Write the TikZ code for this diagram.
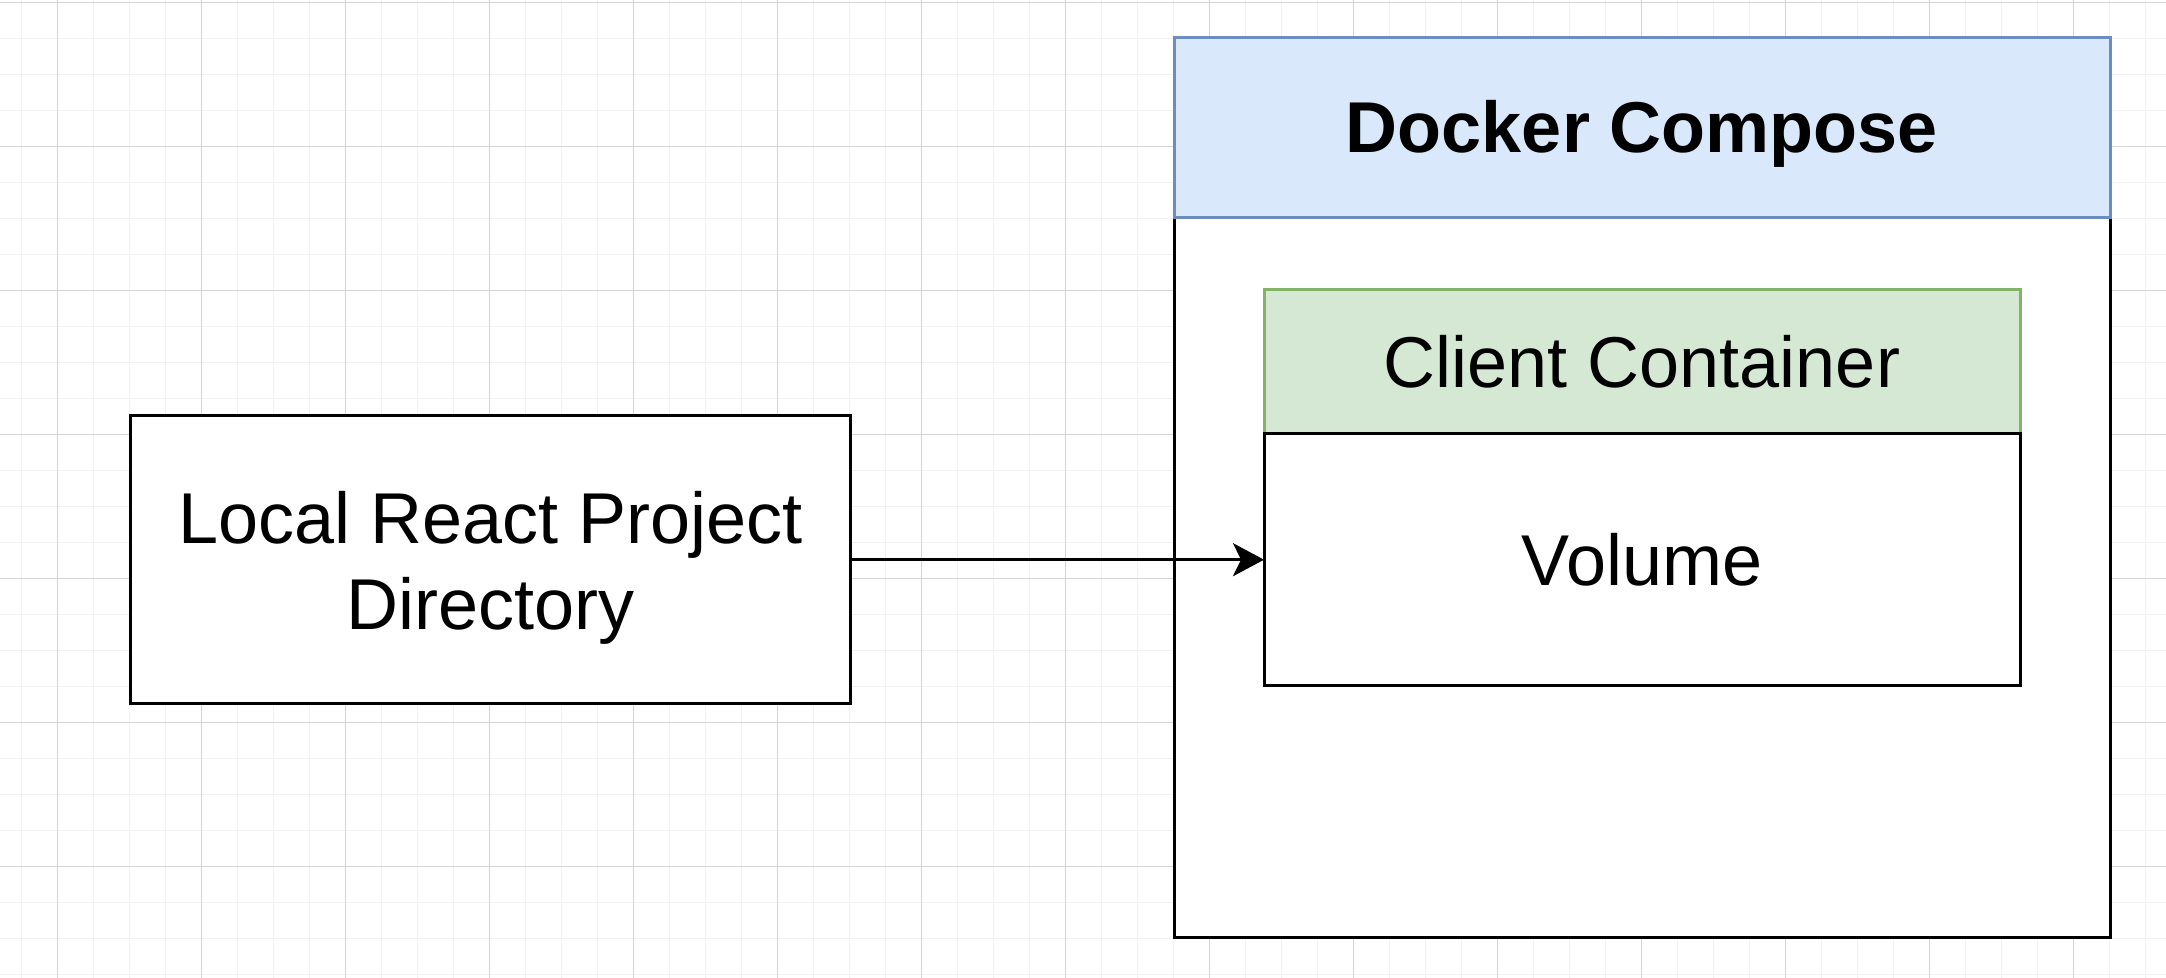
\documentclass[tikz,border=0pt]{standalone}
\usepackage{fontspec}
\setmainfont{Liberation Sans}
\usetikzlibrary{arrows.meta}
\definecolor{hdrblue}{HTML}{DAE8FC}
\definecolor{hdrbluestroke}{HTML}{6C8EBF}
\definecolor{hdrgreen}{HTML}{D5E8D4}
\definecolor{hdrgreenstroke}{HTML}{82B366}
\definecolor{gridminor}{gray}{0.95}
\definecolor{gridmajor}{gray}{0.83}
\begin{document}
\begin{tikzpicture}[x=0.5pt,y=-0.5pt,
  boxbase/.style={line width=1.5pt, inner sep=0pt, outer sep=0pt, anchor=north west,
    font=\fontsize{36pt}{43.2pt}\selectfont, align=center},
  plainbox/.style={boxbase, draw=black, fill=white},
  bluehdr/.style={boxbase, draw=hdrbluestroke, fill=hdrblue},
  greenhdr/.style={boxbase, draw=hdrgreenstroke, fill=hdrgreen},
  boxtext/.style={inner sep=0pt, align=center, font=\fontsize{36pt}{43.2pt}\selectfont},
  minorline/.style={draw=gridminor, line width=0.6pt},
  majorline/.style={draw=gridmajor, line width=0.6pt},
  conn/.style={draw=black, line width=1.5pt, -{Stealth[length=15.5pt, width=16.5pt, inset=4pt]}}
]
\useasboundingbox (0,0) rectangle (2166,978);
\fill[white] (0,0) rectangle (2166,978);
% grid
\foreach \x in {21.5,57.5,...,2166} \draw[minorline] (\x,0) -- (\x,978);
\foreach \y in {2.5,38.5,...,978} \draw[minorline] (0,\y) -- (2166,\y);
\foreach \x in {57.5,201.5,...,2166} \draw[majorline] (\x,0) -- (\x,978);
\foreach \y in {2.5,146.5,...,978} \draw[majorline] (0,\y) -- (2166,\y);
% local project
\node[plainbox, minimum width=360pt, minimum height=144pt,
  label={[boxtext, yshift=-4pt]center:{Local React Project\\Directory}}] (local) at (130.3,415.7) {};
% docker compose
\node[plainbox, minimum width=468pt, minimum height=360pt] (dockerbody) at (1174,217.7) {};
\node[bluehdr, minimum width=468pt, minimum height=90pt,
  label={[boxtext, yshift=-3pt, font=\fontsize{36pt}{43.2pt}\selectfont\bfseries]center:Docker Compose}] (docker) at (1174,37.7) {};
% client container
\node[greenhdr, minimum width=378pt, minimum height=72pt] (client) at (1264,289.7) {Client Container};
\node[plainbox, minimum width=378pt, minimum height=126pt] (volume) at (1264,433.7) {Volume};
% connector
\draw[conn] (local.east) -- (volume.west);
\end{tikzpicture}
\end{document}
